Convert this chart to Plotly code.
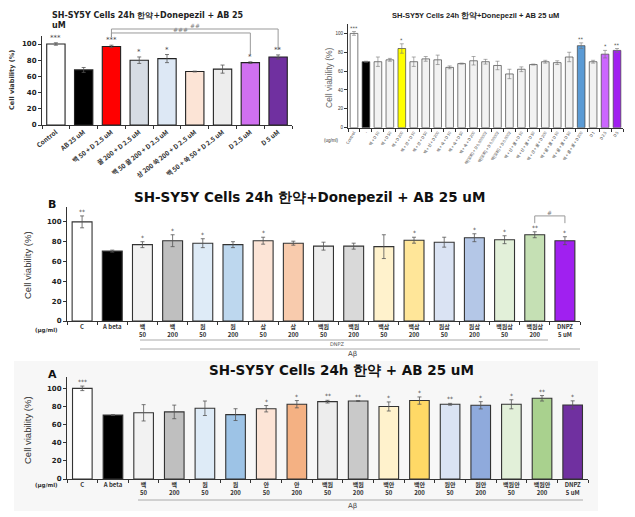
import plotly.graph_objects as go

OFF = 8  # page body margin
W, H = 635 - OFF, 517 - OFF
def px(x): return (x - OFF) / W
def py(y): return 1 - (y - OFF) / H

# ---------------- data ----------------
tl_labels = ["Control", "AB 25 uM", "백 50 + D 2.5 uM", "꿀 200 + D 2.5 uM", "백 50 꿀 200 + D 2.5 uM",
             "상 200 쑥 200 + D 2.5 uM", "백 50 + 쑥 50 + D 2.5 uM", "D 2.5 uM", "D 5 uM"]
tl_values = [100, 68, 97, 80, 82, 66, 69, 77, 84]
tl_err = [1.5, 3, 1.5, 4, 5, 0.5, 5, 1, 2.5]
tl_sig = ["***", "", "***", "*", "*", "", "", "*", "**"]
tl_colors = ["#ffffff", "#000000", "#ff0000", "#d6dce4", "#dde8f5", "#fce4d6", "#ededed", "#d070f0", "#7030a0"]

tr_labels = ["Control", "-", "백 + D 10", "백 + D 50", "백 + D 200", "백 + 산 + D 10", "백 + 산 + D 50",
             "백 + 산 + D 200", "백 + 숙 + D 10", "백 + 숙 + D 50", "백 + 숙 + D 200",
             "백(모회) + D 0.000002", "백(모회) + D 0.00002", "백(모회) + D 0.0002",
             "백 + 산 + 꿀 + D 10", "백 + 산 + 꿀 + D 50", "백 + 산 + 꿀 + D 200",
             "백 + 꿀 + 꿀 + D 10", "백 + 꿀 + 꿀 + D 50", "백 + 꿀 + 꿀 + D 200", "D 1", "D 2.5", "D 5"]
tr_values = [100, 70, 70, 72, 84, 70, 73, 72, 64, 68, 71, 70, 66, 57, 62, 67, 70, 69, 75, 87, 70, 78, 82]
tr_err = [2, 0.5, 5, 1.5, 5, 5, 2.5, 5, 1.5, 0.5, 4.5, 2.5, 4.5, 5, 2.5, 0.5, 1.5, 2, 5, 3, 1.5, 4, 2]
tr_sig = ["***", "", "", "", "*", "", "", "", "", "", "", "", "", "", "", "", "", "", "", "**", "", "*", "**"]
tr_colors = ["#ffffff", "#000000"] + ["#f2f2f2", "#f2f2f2", "#ffff00"] + ["#f2f2f2"] * 14 + \
            ["#5b9bd5", "#f2f2f2", "#cc66ff", "#a020f0"]

b_labels = ["C", "A beta", "백<br>50", "백<br>200", "원<br>50", "원<br>200", "삼<br>50", "삼<br>200",
            "백원<br>50", "백원<br>200", "백삼<br>50", "백삼<br>200", "원삼<br>50", "원삼<br>200",
            "백원삼<br>50", "백원삼<br>200", "DNPZ<br>5 uM"]
b_values = [100, 70.5, 77, 81, 78.5, 77, 81, 78.5, 75.5, 75.5, 75, 81.5, 79.5, 84, 82, 87, 81]
b_err = [6, 1, 3, 6, 4.5, 3, 3.5, 2, 4, 3, 12, 3, 5, 4, 4, 3, 4]
b_sig = ["**", "", "*", "*", "*", "", "*", "", "", "", "", "*", "", "*", "*", "**", "*"]
b_colors = ["#ffffff", "#000000", "#f2f2f2", "#bfbfbf", "#deebf7", "#bdd7ee", "#fce4d6", "#f8cbad",
            "#ededed", "#d9d9d9", "#fff2cc", "#ffe699", "#dae3f3", "#b4c7e7", "#e2f0d9", "#c5e0b4", "#a020f0"]

a_labels = ["C", "A beta", "백<br>50", "백<br>200", "원<br>50", "원<br>200", "안<br>50", "안<br>200",
            "백원<br>50", "백원<br>200", "백안<br>50", "백안<br>200", "원안<br>50", "원안<br>200",
            "백원안<br>50", "백원안<br>200", "DNPZ<br>5 uM"]
a_values = [100, 70.5, 73, 74, 78, 71, 77.5, 82.5, 85.3, 86, 80, 86.5, 82.4, 81.3, 82.4, 89, 81.7]
a_err = [2.5, 0.5, 9, 7.5, 8, 6.5, 3.5, 4, 1.5, 0.5, 5, 4, 1, 4, 5, 3, 4.5]
a_sig = ["***", "", "", "", "", "", "*", "*", "**", "**", "*", "*", "**", "*", "*", "**", "*"]
a_colors = ["#ffffff", "#000000", "#f2f2f2", "#bfbfbf", "#deebf7", "#9dc3e6", "#fce4d6", "#f4b183",
            "#ededed", "#c9c9c9", "#fff2cc", "#ffd966", "#dae3f3", "#8faadc", "#e2f0d9", "#a9d18e", "#7030a0"]

y_ticks = [0, 20, 40, 60, 80, 100]

fig = go.Figure()
KR = "Noto Sans CJK KR"
BOLDY = dict(family="DejaVu Sans", size=7, color="#222", weight="bold")

panels = [
    dict(key="", labels=tl_labels, values=tl_values, err=tl_err, sig=tl_sig, colors=tl_colors,
         xd=[px(42), px(292)], yd=[py(125), py(35.9)], ymax=110, width=0.66, lw=1.1, lc="#222",
         tickfont=dict(family=KR, size=6.5, color="#333", weight="bold"), tickangle=-38, ytf=BOLDY,
         sigsize=7, ecolor="#555", ew=0.8),
    dict(key="2", labels=tr_labels, values=tr_values, err=tr_err, sig=tr_sig, colors=tr_colors,
         xd=[px(348), px(623)], yd=[py(127.7), py(24)], ymax=110, width=0.64, lw=0.7, lc="#444",
         tickfont=dict(family=KR, size=4, color="#444"), tickangle=-58,
         ytf=dict(family="Liberation Sans", size=4.5, color="#333"),
         sigsize=5, ecolor="#777", ew=0.6),
    dict(key="3", labels=b_labels, values=b_values, err=b_err, sig=b_sig, colors=b_colors,
         xd=[px(67), px(580)], yd=[py(321), py(207)], ymax=115, width=0.66, lw=1.1, lc="#333",
         tickfont=dict(family=KR, size=6, color="#333", weight="bold"), tickangle=0, ytf=BOLDY,
         sigsize=6, ecolor="#555", ew=0.8),
    dict(key="4", labels=a_labels, values=a_values, err=a_err, sig=a_sig, colors=a_colors,
         xd=[px(67), px(588)], yd=[py(479), py(377)], ymax=112.5, width=0.64, lw=1.1, lc="#333",
         tickfont=dict(family=KR, size=6, color="#333", weight="bold"), tickangle=0, ytf=BOLDY,
         sigsize=6, ecolor="#555", ew=0.8),
]

annotations = []
shapes = []

# light background box behind panel A
shapes.append(dict(type="rect", xref="paper", yref="paper", x0=px(14), x1=px(598), y0=py(511), y1=py(361),
                   fillcolor="#f7f7f7", line=dict(width=0), layer="below"))

for p in panels:
    k = p["key"]
    xa, ya = "x" + k, "y" + k
    fig.add_trace(go.Bar(
        x=p["labels"], y=p["values"], xaxis=xa, yaxis=ya, width=p["width"],
        marker=dict(color=p["colors"], line=dict(color=p["lc"], width=p["lw"])),
        error_y=dict(type="data", array=p["err"], color=p["ecolor"], thickness=p["ew"], width=2),
        showlegend=False, hoverinfo="skip"))
    fig.layout["xaxis" + k] = dict(domain=p["xd"], anchor=ya, type="category", showline=True, linecolor="#333",
                                   linewidth=1, ticks="outside", tickson="boundaries", ticklen=3, tickcolor="#333",
                                   tickfont=p["tickfont"], tickangle=p["tickangle"], showgrid=False, zeroline=False,
                                   fixedrange=True, automargin=False)
    fig.layout["yaxis" + k] = dict(domain=p["yd"], anchor=xa, range=[0, p["ymax"]], tickvals=y_ticks,
                                   showline=True, linecolor="#333", linewidth=1, ticks="outside", ticklen=3,
                                   tickcolor="#333", tickfont=p["ytf"], showgrid=False, zeroline=False,
                                   fixedrange=True, automargin=False)
    for lab, v, e, s in zip(p["labels"], p["values"], p["err"], p["sig"]):
        if s:
            annotations.append(dict(x=lab, y=v + e, xref=xa, yref=ya, text=s, showarrow=False, yanchor="bottom",
                                    xanchor="center", yshift=-1,
                                    font=dict(size=p["sigsize"], color="#444", family="DejaVu Sans")))

# brackets (top-left and B)
def bracket(k, labels, ymax, i0, i1, ytop, yl, yr, text, fsize):
    n = len(labels)
    xa0, xa1 = (i0 + 0.5) / n, (i1 + 0.5) / n
    xr, yr_ = "x" + k + " domain", "y" + k + " domain"
    shapes.append(dict(type="path", xref=xr, yref=yr_,
                       path=f"M {xa0} {yl/ymax} L {xa0} {ytop/ymax} L {xa1} {ytop/ymax} L {xa1} {yr/ymax}",
                       line=dict(color="#999", width=1)))
    annotations.append(dict(x=(xa0 + xa1) / 2, y=ytop / ymax, xref=xr, yref=yr_, text=text, showarrow=False,
                            xanchor="center", yanchor="bottom", yshift=-2,
                            font=dict(size=fsize, color="#777", family="DejaVu Sans")))

bracket("", tl_labels, 110, 2, 8, 118.5, 108.6, 92.6, "##", 6)
bracket("", tl_labels, 110, 2, 7, 113.6, 108.6, 86.4, "###", 6)
bracket("3", b_labels, 115, 15, 16, 106, 98.7, 98.7, "#", 6)

def note(x, y, text, size, family="DejaVu Sans", color="#333", angle=0, xanchor="center", yanchor="middle",
         align="center"):
    annotations.append(dict(x=px(x), y=py(y), xref="paper", yref="paper", text=text, showarrow=False,
                            textangle=angle, xanchor=xanchor, yanchor=yanchor, align=align,
                            font=dict(family=family, size=size, color=color)))

NARROW = "Liberation Sans Narrow, Liberation Sans"
# titles
note(50, 8.5, "<b>SH-SY5Y Cells 24h 한약+Donepezil + AB 25<br>uM</b>", 8, color="#222",
     xanchor="left", yanchor="top", align="left")
note(475, 15, "<b>SH-SY5Y Cells 24h 한약+Donepezil + AB 25 uM</b>", 7.5, family=NARROW, color="#222")
note(309, 197, "<b>SH-SY5Y Cells 24h 한약+Donepezil + AB 25 uM</b>", 13.5, color="#111")
note(341, 370, "<b>SH-SY5Y Cells 24h 한약 + AB 25 uM</b>", 13.5, color="#111")
note(52, 205, "<b>B</b>", 11, color="#111")
note(52, 374, "<b>A</b>", 11, color="#111")
# y-axis titles
note(12, 80, "<b>Cell viability (%)</b>", 6.5, angle=-90)
note(329, 78, "Cell viability (%)", 8.5, family="Liberation Sans", color="#666", angle=-90)
note(27, 265, "Cell viability (%)", 9.5, family=NARROW, angle=-90)
note(27, 430, "Cell viability (%)", 9.5, family=NARROW, angle=-90)
# unit labels / group labels
note(331, 141, "(ug/ml)", 4.5, family="Liberation Sans")
note(46, 330, "<b>(μg/ml)</b>", 5.5)
note(46, 485, "<b>(μg/ml)</b>", 5.5)
note(337, 344, "DNPZ", 5, color="#555")
note(352, 354, "Aβ", 7, color="#444")
note(352, 506, "Aβ", 7, color="#444")

shapes += [
    dict(type="line", xref="paper", yref="paper", x0=px(140), x1=px(548), y0=py(340), y1=py(340),
         line=dict(color="#aaa", width=1)),
    dict(type="line", xref="paper", yref="paper", x0=px(140), x1=px(580), y0=py(349), y1=py(349),
         line=dict(color="#aaa", width=1)),
    dict(type="line", xref="paper", yref="paper", x0=px(138), x1=px(583), y0=py(500), y1=py(500),
         line=dict(color="#aaa", width=1)),
]

fig.update_layout(width=W, height=H, margin=dict(l=0, r=0, t=0, b=0), paper_bgcolor="white",
                  plot_bgcolor="rgba(0,0,0,0)", bargap=0.3, annotations=annotations, shapes=shapes)

fig.write_html("out.html")
